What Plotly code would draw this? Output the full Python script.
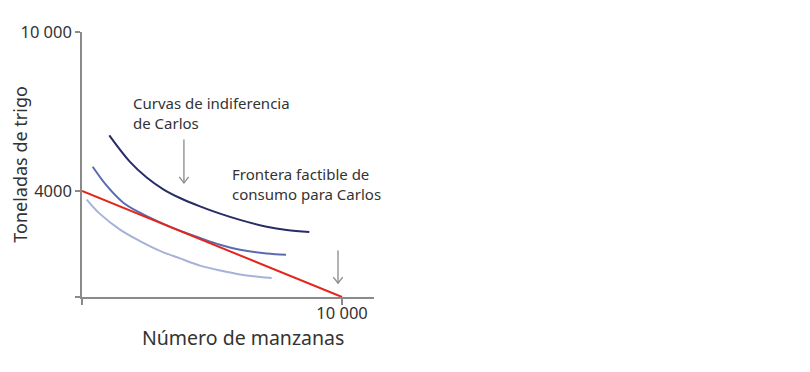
import plotly.graph_objects as go

# Data
ic_high_x = [1050, 1846, 2488, 3127, 3769, 4538, 5308, 6077, 7104, 7873, 8742]
ic_high_y = [6100, 5100, 4510, 4065, 3735, 3420, 3145, 2910, 2650, 2525, 2450]

ic_mid_x = [412, 950, 1588, 2231, 2873, 3512, 4538, 5308, 6077, 7104, 7846]
ic_mid_y = [4915, 4200, 3560, 3180, 2870, 2600, 2230, 1970, 1780, 1640, 1595]

ic_low_x = [181, 692, 1462, 2231, 3000, 3769, 4538, 5308, 6077, 7296]
ic_low_y = [3678, 3137, 2544, 2111, 1741, 1456, 1185, 1000, 852, 715]

frontier_x = [0, 10000]
frontier_y = [4000, 0]

x_tickvals = [0, 10000]
x_ticktext = ["", "10 000"]
y_tickvals = [0, 4000, 10000]
y_ticktext = ["", "4000", "10 000"]

FONT = "Noto Sans"
GRAY = "#8a8a8a"
TXT = "#333333"

fig = go.Figure()
fig.add_trace(go.Scatter(x=ic_high_x, y=ic_high_y, mode="lines",
                         line=dict(color="#272c66", width=2, shape="spline", smoothing=1.0)))
fig.add_trace(go.Scatter(x=ic_mid_x, y=ic_mid_y, mode="lines",
                         line=dict(color="#5a6bb0", width=2, shape="spline", smoothing=1.0)))
fig.add_trace(go.Scatter(x=ic_low_x, y=ic_low_y, mode="lines",
                         line=dict(color="#a6b2d8", width=2, shape="spline", smoothing=1.0)))
fig.add_trace(go.Scatter(x=frontier_x, y=frontier_y, mode="lines",
                         line=dict(color="#e3261c", width=2)))

annos = [
    dict(x=1900, y=6950, text="Curvas de indiferencia<br>de Carlos", showarrow=False,
         xanchor="left", yanchor="middle", align="left",
         font=dict(family=FONT, size=15, color=TXT)),
    dict(x=5700, y=4260, text="Frontera factible de<br>consumo para Carlos", showarrow=False,
         xanchor="left", yanchor="middle", align="left",
         font=dict(family=FONT, size=15, color=TXT)),
    dict(x=3920, y=4300, ax=3920, ay=6000, xref="x", yref="y", axref="x", ayref="y",
         text="", showarrow=True, arrowhead=0, arrowwidth=1.3, arrowcolor=GRAY),
    dict(x=9846, y=520, ax=9846, ay=1815, xref="x", yref="y", axref="x", ayref="y",
         text="", showarrow=True, arrowhead=0, arrowwidth=1.3, arrowcolor=GRAY),
    dict(x=0.55, y=-0.152, xref="paper", yref="paper", text="Número de manzanas",
         showarrow=False, xanchor="center", yanchor="middle",
         font=dict(family=FONT, size=19.5, color=TXT)),
    dict(x=-0.215, y=0.5, xref="paper", yref="paper", text="Toneladas de trigo",
         showarrow=False, textangle=-90, xanchor="center", yanchor="middle",
         font=dict(family=FONT, size=18, color=TXT)),
]

fig.update_layout(
    width=802, height=364,
    margin=dict(l=74, r=436, t=19, b=75),
    paper_bgcolor="white", plot_bgcolor="white",
    showlegend=False,
    annotations=annos,
    xaxis=dict(range=[0, 11230], tickvals=x_tickvals, ticktext=x_ticktext,
               showgrid=False, zeroline=False, showline=True, linecolor=GRAY, linewidth=1.5,
               ticks="outside", ticklen=6, tickcolor=GRAY, tickwidth=1.5,
               ticklabelstandoff=-6,
               tickfont=dict(family=FONT, size=16.5, color=TXT)),
    yaxis=dict(range=[0, 10000], tickvals=y_tickvals, ticktext=y_ticktext,
               showgrid=False, zeroline=False, showline=True, linecolor=GRAY, linewidth=1.5,
               ticks="outside", ticklen=5, tickcolor=GRAY, tickwidth=1.5,
               tickfont=dict(family=FONT, size=16.5, color=TXT)),
)

# arrowheads drawn as chevron traces
for (xa, ya) in [(3920, 4300), (9846, 520)]:
    fig.add_trace(go.Scatter(x=[xa - 180, xa, xa + 180], y=[ya + 230, ya, ya + 230],
                             mode="lines", line=dict(color=GRAY, width=1.3),
                             hoverinfo="skip"))

fig.write_html("out.html")
